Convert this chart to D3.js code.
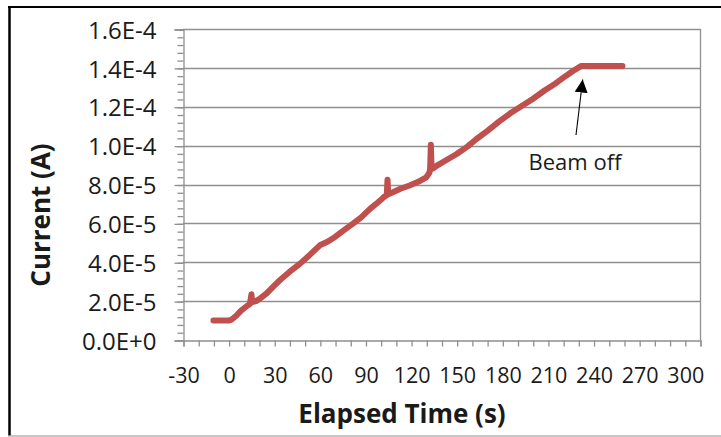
<!DOCTYPE html>
<html>
<head>
<meta charset="utf-8">
<script src="https://cdn.jsdelivr.net/npm/d3@7/dist/d3.min.js"></script>
<style>
  html, body { margin: 0; padding: 0; background: #fff; }
  svg { display: block; }
  text { font-family: "Open Sans", "Noto Sans", sans-serif; fill: #1a1a1a; }
</style>
</head>
<body>
<svg id="chart" width="721" height="437"></svg>
<script>
// Elapsed time (s) and measured current (A)
const timeSec = [
  -10, 0, 2, 5, 8, 12, 14, 15, 15.5, 18, 21, 25, 30, 34, 40, 47, 53, 57, 60,
  65, 70, 75, 82, 87, 93, 97, 100, 102, 104, 104.5, 105, 108, 113, 119, 125,
  130, 132, 132.5, 133, 133.5, 135, 137, 143, 150, 157, 163, 170, 178, 185,
  193, 200, 208, 215, 222, 226.7, 232, 240, 250, 259
];
const currentA = [
  10e-6, 10e-6, 10.5e-6, 12.5e-6, 15e-6, 17.5e-6, 18.5e-6, 23.5e-6, 19.5e-6, 20e-6,
  21.5e-6, 24e-6, 28e-6, 31e-6, 35e-6, 39.3e-6, 43.5e-6, 46.5e-6, 48.7e-6,
  50.5e-6, 53e-6, 56e-6, 60e-6, 63e-6, 67.5e-6, 70e-6, 72e-6, 73.5e-6, 74.5e-6,
  82.5e-6, 75e-6, 76e-6, 77.8e-6, 79.5e-6, 81.5e-6,
  83.7e-6, 86e-6, 88e-6, 100.5e-6, 88e-6, 88.5e-6, 89.7e-6, 92.5e-6, 95.7e-6,
  99.5e-6, 103.4e-6, 107.5e-6, 112.5e-6, 116.5e-6,
  120.5e-6, 124e-6, 128.5e-6, 132e-6, 136e-6, 138.5e-6, 141e-6, 141e-6, 141e-6, 141e-6
];

// Axis ticks
const xTickLabels = [-30, 0, 30, 60, 90, 120, 150, 180, 210, 240, 270, 300];
const xMinorTicks = d3.range(-30, 311, 10);
const yTickLabels = [0, 2e-5, 4e-5, 6e-5, 8e-5, 1.0e-4, 1.2e-4, 1.4e-4, 1.6e-4];
const yMinorTicks = d3.range(0, 41).map(i => i * 4e-6);

const annotationText = "Beam off";
const xTitle = "Elapsed Time (s)";
const yTitle = "Current (A)";

const svg = d3.select("#chart");
const plot = { left: 183, right: 700, top: 29, bottom: 340 };

const x = d3.scaleLinear().domain([-30, 310]).range([plot.left, plot.right]);
const y = d3.scaleLinear().domain([0, 1.6e-4]).range([plot.bottom, plot.top]);

const axisColor = "#8f8f8f";

// Outer frame
svg.append("line").attr("x1", 8).attr("x2", 721).attr("y1", 7).attr("y2", 7)
  .attr("stroke", "#000").attr("stroke-width", 2);
svg.append("line").attr("x1", 9.5).attr("x2", 9.5).attr("y1", 6).attr("y2", 436)
  .attr("stroke", "#000").attr("stroke-width", 2.5);
svg.append("line").attr("x1", 8).attr("x2", 721).attr("y1", 436).attr("y2", 436)
  .attr("stroke", "#b4b4b4").attr("stroke-width", 1.5);

// Horizontal gridlines
svg.append("g").selectAll("line").data(yTickLabels.filter(v => v > 0)).join("line")
  .attr("x1", plot.left).attr("x2", plot.right)
  .attr("y1", d => Math.round(y(d)) + 0.5).attr("y2", d => Math.round(y(d)) + 0.5)
  .attr("stroke", axisColor).attr("stroke-width", 1.3);

// Right border of the plot area
svg.append("line").attr("x1", plot.right + 0.5).attr("x2", plot.right + 0.5)
  .attr("y1", plot.top).attr("y2", plot.bottom)
  .attr("stroke", axisColor).attr("stroke-width", 1.3);

// Y axis: minor ticks, then major ticks with labels
const yMinor = svg.append("g").attr("transform", `translate(${plot.left + 0.5},0.5)`)
  .call(d3.axisLeft(y).tickValues(yMinorTicks).tickSize(6).tickFormat(""));
yMinor.select(".domain").remove();
yMinor.selectAll("line").attr("stroke", axisColor).attr("stroke-width", 1.3);

const yAxis = svg.append("g").attr("transform", `translate(${plot.left + 0.5},0.5)`)
  .call(d3.axisLeft(y).tickValues(yTickLabels).tickSize(9).tickPadding(18)
    .tickFormat(d => d.toExponential(1).toUpperCase()));
yAxis.select(".domain").attr("stroke", axisColor).attr("stroke-width", 1.3);
yAxis.selectAll("line").attr("stroke", axisColor).attr("stroke-width", 1.3);
yAxis.selectAll("text").attr("font-size", 24).attr("dy", "0.36em")
  .style("font-family", "'Open Sans', sans-serif").attr("fill", "#141414");

// X axis: ticks every 10 s, labels every 30 s
const xMinor = svg.append("g").attr("transform", `translate(0.5,${plot.bottom + 0.5})`)
  .call(d3.axisBottom(x).tickValues(xMinorTicks).tickSize(6).tickFormat(""));
xMinor.select(".domain").attr("stroke", axisColor).attr("stroke-width", 1.3);
xMinor.selectAll("line").attr("stroke", axisColor).attr("stroke-width", 1.3);

const xAxis = svg.append("g").attr("transform", `translate(0.5,${plot.bottom})`)
  .call(d3.axisBottom(x).tickValues(xTickLabels).tickSize(0).tickPadding(0)
    .tickFormat(d => String(d)));
xAxis.select(".domain").remove();
xAxis.selectAll("text").attr("font-size", 21.5).attr("y", 43).attr("dy", 0)
  .style("font-family", "'Open Sans', sans-serif").attr("fill", "#141414");

// Current trace
const points = timeSec.map((t, i) => [t, currentA[i]]);
svg.append("path").datum(points)
  .attr("fill", "none").attr("stroke", "#C0504D").attr("stroke-width", 6)
  .attr("stroke-linejoin", "round").attr("stroke-linecap", "round")
  .attr("d", d3.line().x(d => x(d[0])).y(d => y(d[1])));

// Axis titles
svg.append("text").attr("x", 402).attr("y", 423).attr("text-anchor", "middle")
  .attr("font-size", 26).attr("font-weight", 700).attr("fill", "#111").text(xTitle);
svg.append("text").attr("transform", "translate(50,215) rotate(-90)")
  .attr("text-anchor", "middle").attr("font-size", 26).attr("font-weight", 700)
  .attr("fill", "#111").text(yTitle);

// "Beam off" annotation with arrow pointing at the end of the ramp
const defs = svg.append("defs");
defs.append("marker").attr("id", "arrowHead").attr("viewBox", "0 0 10 10")
  .attr("refX", 10).attr("refY", 5).attr("markerWidth", 13).attr("markerHeight", 13)
  .attr("markerUnits", "userSpaceOnUse").attr("orient", "auto")
  .append("path").attr("d", "M0,0 L10,5 L0,10 Z").attr("fill", "#000");

svg.append("line").attr("x1", 576).attr("y1", 135).attr("x2", 582.7).attr("y2", 79.5)
  .attr("stroke", "#000").attr("stroke-width", 1.1).attr("marker-end", "url(#arrowHead)");
svg.append("text").attr("x", 575).attr("y", 170).attr("text-anchor", "middle")
  .attr("font-size", 22).attr("fill", "#1a1a1a").text(annotationText);
</script>
</body>
</html>
